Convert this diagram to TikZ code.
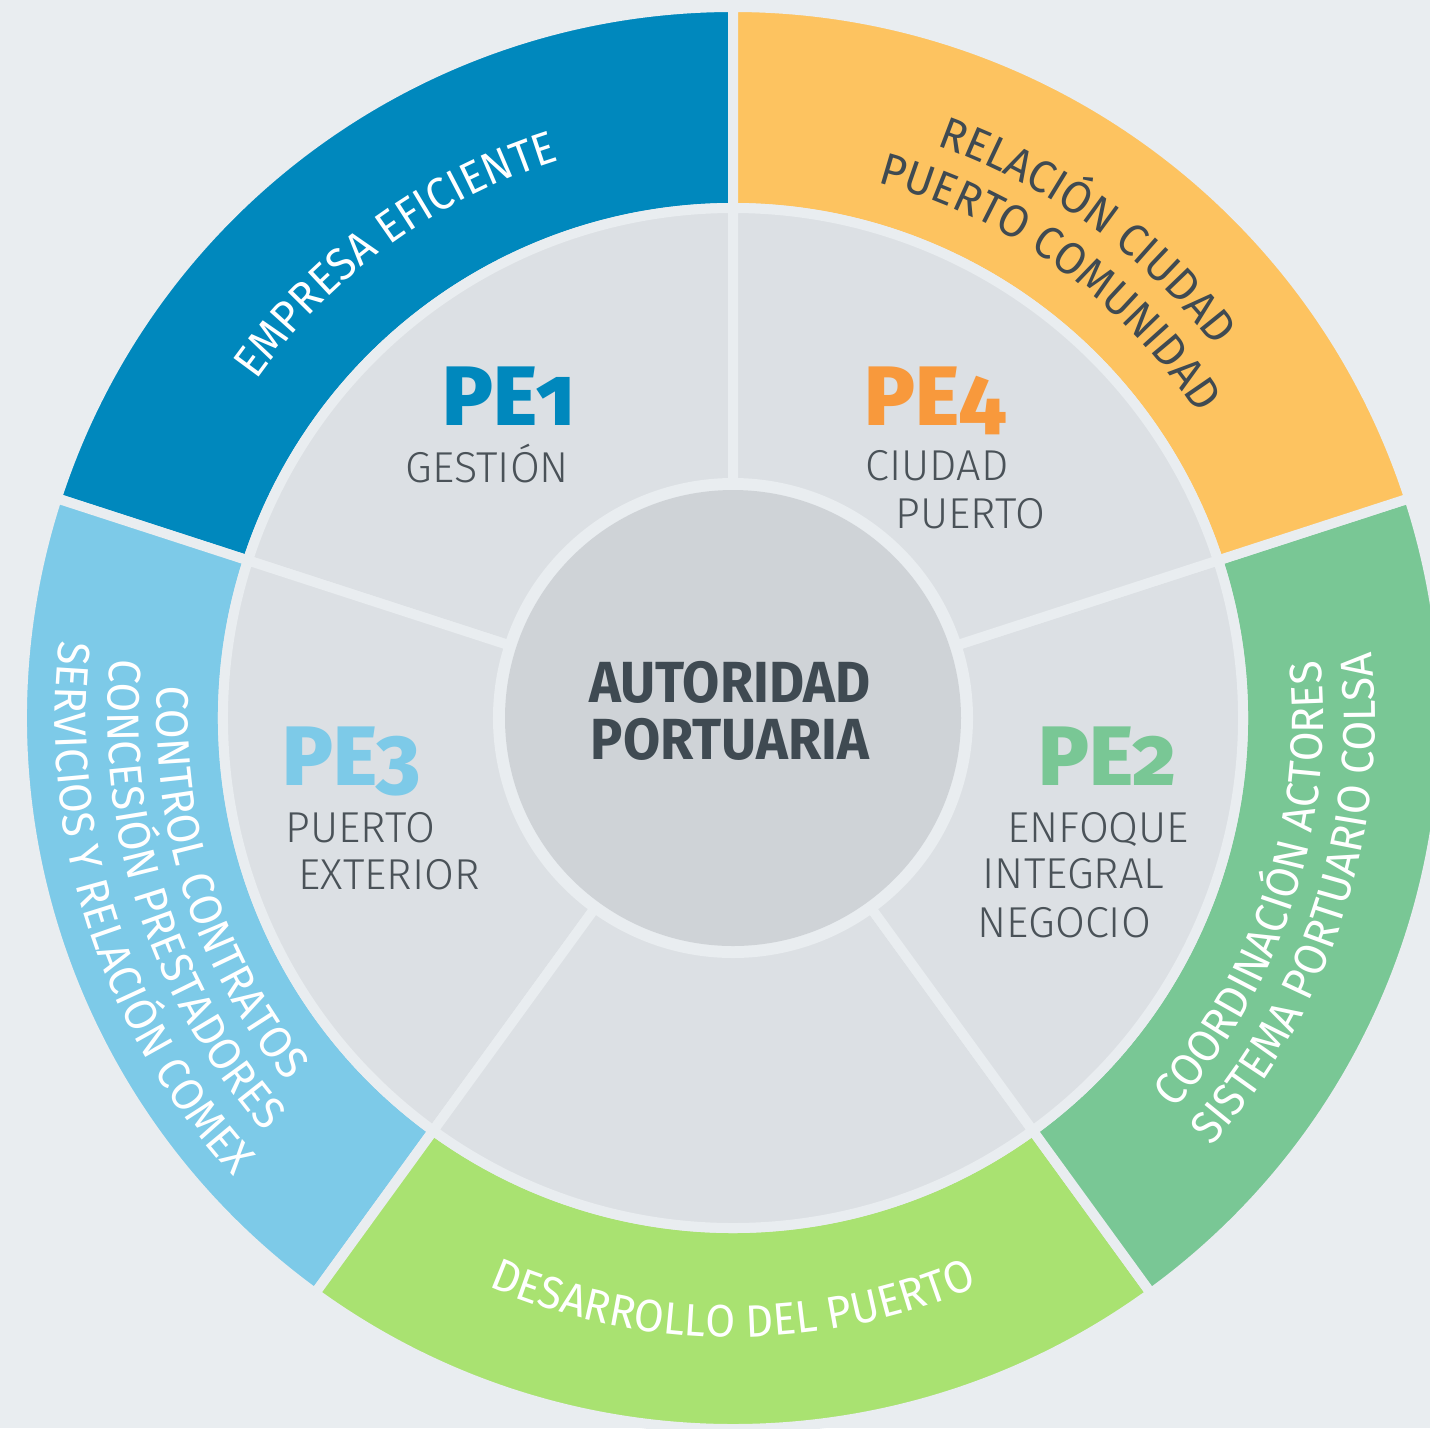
\documentclass[tikz,border=0pt]{standalone}
\usepackage{fontspec}
\setmainfont{Fira Sans}
\newfontfamily\lightfont{Fira Sans Light}
\newfontfamily\pefont[Numbers=OldStyle]{Fira Sans ExtraBold}
\newfontfamily\hubfont[FakeStretch=0.93]{Fira Sans}
\newfontfamily\ringface[FakeStretch=0.95]{Fira Sans}
\usetikzlibrary{decorations.text}

\definecolor{bgcol}{HTML}{E9EDF0}
\definecolor{sectorgray}{HTML}{DCE0E4}
\definecolor{hubgray}{HTML}{CFD3D7}
\definecolor{peblue}{HTML}{0088BD}
\definecolor{pelightblue}{HTML}{7DCAE8}
\definecolor{peyellow}{HTML}{FDC360}
\definecolor{pegreen}{HTML}{79C795}
\definecolor{pelime}{HTML}{A9E271}
\definecolor{peorange}{HTML}{F8993C}
\definecolor{labelgray}{HTML}{4A5258}
\definecolor{hubtext}{HTML}{3F4A52}

\newcommand\ringfont{\ringface\fontsize{12.9}{15}\selectfont}

\tikzset{
  pelabel/.style={anchor=base west, inner sep=0pt, font=\pefont\fontsize{24}{24}\selectfont},
  sublabel/.style={anchor=base west, inner sep=0pt, text=labelgray, font=\lightfont\fontsize{12.3}{14}\selectfont},
  hublabel/.style={inner sep=0pt, align=center, text=hubtext, font=\hubfont\bfseries\fontsize{16.5}{16.2}\selectfont},
  ringtext/.style 2 args={decorate, decoration={text along path, text align=center, text color=#1, text={|\ringfont|#2}}}
}

\begin{document}
\begin{tikzpicture}
    \useasboundingbox[fill=bgcol] (-7.33,-7.10) rectangle (6.97,7.18);

    % outer ring
    \foreach \a/\col in {90/peblue, 162/pelightblue, 234/pelime, 306/pegreen, 18/peyellow}
      \filldraw[fill=\col, draw=bgcol, line width=1mm] (\a:7.11) arc[start angle=\a, delta angle=72, radius=7.11]
        -- ({\a+72}:5.10) arc[start angle=\a+72, delta angle=-72, radius=5.10] -- cycle;

    % inner ring
    \foreach \a in {90, 162, 234, 306, 18}
      \filldraw[fill=sectorgray, draw=bgcol, line width=1mm] (\a:5.10) arc[start angle=\a, delta angle=72, radius=5.10]
        -- ({\a+72}:2.35) arc[start angle=\a+72, delta angle=-72, radius=2.35] -- cycle;

    \node(hub)[circle, fill=hubgray, inner sep=0pt, minimum size=4.56cm] at (0,0) {};
    \node(hubtext)[hublabel] at (-0.03,0.07) {AUTORIDAD\\PORTUARIA};

    \node(pe1)[pelabel, text=peblue] at (-2.91,2.93) {PE1};
    \node(gestion)[sublabel] at (-3.28,2.36) {GESTIÓN};
    \node(pe4)[pelabel, text=peorange] at (1.31,2.93) {PE4};
    \node(ciudad)[sublabel] at (1.32,2.38) {CIUDAD};
    \node(puertoc)[sublabel] at (1.62,1.90) {PUERTO};
    \node(pe3)[pelabel, text=pelightblue] at (-4.51,-0.67) {PE3};
    \node(puertoe)[sublabel] at (-4.48,-1.24) {PUERTO};
    \node(exterior)[sublabel] at (-4.35,-1.71) {EXTERIOR};
    \node(pe2)[pelabel, text=pegreen] at (3.05,-0.67) {PE2};
    \node(enfoque)[sublabel] at (2.74,-1.24) {ENFOQUE};
    \node(integral)[sublabel] at (2.49,-1.70) {INTEGRAL};
    \node(negocio)[sublabel] at (2.44,-2.19) {NEGOCIO};

    % texts along the outer ring
    \path[ringtext={white}{EMPRESA EFICIENTE}] (162:5.84) arc[start angle=162, end angle=90, radius=5.84];
    \path[ringtext={hubtext}{RELACIÓN CIUDAD}] (90:6.08) arc[start angle=90, end angle=18, radius=6.08];
    \path[ringtext={hubtext}{PUERTO COMUNIDAD}] (90:5.55) arc[start angle=90, end angle=18, radius=5.55];
    \path[ringtext={white}{COORDINACIÓN ACTORES}] (-54:5.90) arc[start angle=-54, end angle=18, radius=5.90];
    \path[ringtext={white}{SISTEMA PORTUARIO COLSA}] (-54:6.42) arc[start angle=-54, end angle=18, radius=6.42];
    \path[ringtext={white}{DESARROLLO DEL PUERTO}] (-126:6.19) arc[start angle=-126, end angle=-54, radius=6.19];
    \path[ringtext={white}{CONTROL CONTRATOS}] (162:5.76) arc[start angle=162, end angle=234, radius=5.76];
    \path[ringtext={white}{CONCESIÓN PRESTADORES}] (162:6.25) arc[start angle=162, end angle=234, radius=6.25];
    \path[ringtext={white}{SERVICIOS Y RELACIÓN COMEX}] (162:6.78) arc[start angle=162, end angle=234, radius=6.78];
\end{tikzpicture}
\end{document}
